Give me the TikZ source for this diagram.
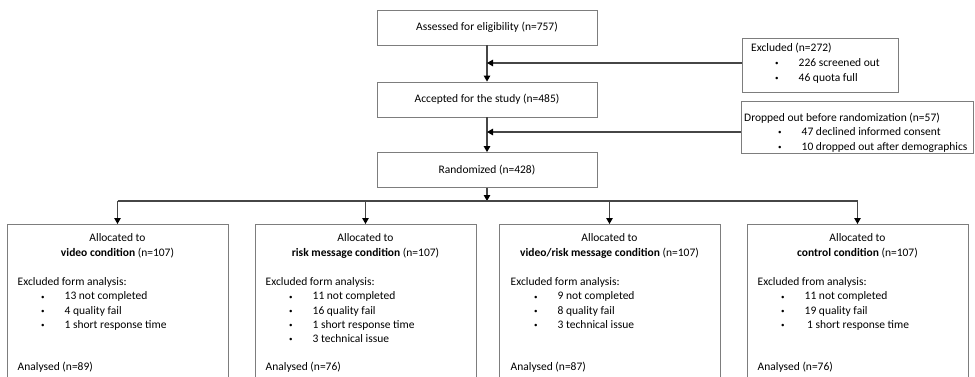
\documentclass[tikz,border=0pt]{standalone}
\usepackage{fontspec}
\setmainfont{Carlito}
\usepackage{tikz}
\usetikzlibrary{arrows.meta,positioning,calc}
\definecolor{boxline}{RGB}{125,125,125}
\definecolor{flowline}{RGB}{70,70,70}
\newcommand{\bul}{\makebox[23.5pt][l]{\raisebox{0.8pt}{\fontsize{7}{7}\selectfont\textbullet}}}

\begin{document}
\begin{tikzpicture}[x=1pt,y=-1pt,
    font=\fontsize{11.5}{13}\selectfont,
    box/.style={draw=boxline, line width=0.8pt, minimum width=220pt, minimum height=35pt, inner sep=0pt},
    group/.style={box, minimum width=221pt, minimum height=170pt, anchor=north},
    txt/.style={anchor=base west, inner sep=0pt},
    ctr/.style={anchor=base, inner sep=0pt},
    flow/.style={draw=flowline, line width=1.1pt},
    arr/.style={flow, -{Triangle[length=6pt,width=6.5pt,color=black]}}]

    \useasboundingbox (0,0) rectangle (975,376);
    \clip (0,0) rectangle (975,376);

    % main column
    \node [box] (assess) at (487,27.5) {Assessed for eligibility (n=757)};
    \node [box] (accept) at (487,99.5) {Accepted for the study (n=485)};
    \node [box] (rand) at (487,170) {Randomized (n=428)};

    % side boxes
    \node [box, minimum width=156pt, minimum height=54pt] (excl) at (820,65) {};
    \node [txt] (excl-t) at (751,51) {Excluded (n=272)};
    \node [txt] (excl-1) at (775,66.5) {\bul 226 screened out};
    \node [txt] (excl-2) at (775,81) {\bul 46 quota full};

    \node [box, minimum width=232pt, minimum height=52pt] (drop) at (857,127) {};
    \node [txt] (drop-t) at (744,121.5) {Dropped out before randomization (n=57)};
    \node [txt] (drop-1) at (778,135.5) {\bul 47 declined informed consent};
    \node [txt] (drop-2) at (778,150) {\bul 10 dropped out after demographics};

    \coordinate (j1) at (487,63);
    \coordinate (j2) at (487,132);
    \coordinate (split) at (487,201);

    \draw [arr] (assess) -- (accept);
    \draw [arr] (accept) -- (rand);
    \draw [arr] (excl.west |- j1) -- (j1);
    \draw [arr] (drop.west |- j2) -- (j2);

    % allocation groups
    \node [group] (vid) at (117.5,224) {};
    \node [ctr] (vid-a) at (117.5,241.5) {Allocated to};
    \node [ctr] (vid-b) at (117.5,256.5) {\textbf{video condition} (n=107)};
    \node [txt] (vid-x) at (17.5,285.5) {Excluded form analysis:};
    \foreach \t [count=\i] in {13 not completed, 4 quality fail, 1 short response time}
        \node [txt] (vid-\i) at (41,{285.5+14.3*\i}) {\bul \t};
    \node [txt] (vid-n) at (17.5,370.5) {Analysed (n=89)};

    \node [group] (risk) at (365.5,224) {};
    \node [ctr] (risk-a) at (365.5,241.5) {Allocated to};
    \node [ctr] (risk-b) at (365.5,256.5) {\textbf{risk message condition} (n=107)};
    \node [txt] (risk-x) at (265.5,285.5) {Excluded form analysis:};
    \foreach \t [count=\i] in {11 not completed, 16 quality fail, 1 short response time, 3 technical issue}
        \node [txt] (risk-\i) at (289,{285.5+14.3*\i}) {\bul \t};
    \node [txt] (risk-n) at (265.5,370.5) {Analysed (n=76)};

    \node [group] (mix) at (609.5,224) {};
    \node [ctr] (mix-a) at (609.5,241.5) {Allocated to};
    \node [ctr] (mix-b) at (609.5,256.5) {\textbf{video/risk message condition} (n=107)};
    \node [txt] (mix-x) at (510.5,285.5) {Excluded form analysis:};
    \foreach \t [count=\i] in {9 not completed, 8 quality fail, 3 technical issue}
        \node [txt] (mix-\i) at (534,{285.5+14.3*\i}) {\bul \t};
    \node [txt] (mix-n) at (510.5,370.5) {Analysed (n=87)};

    \node [group] (ctl) at (857.5,224) {};
    \node [ctr] (ctl-a) at (857.5,241.5) {Allocated to};
    \node [ctr] (ctl-b) at (857.5,256.5) {\textbf{control condition} (n=107)};
    \node [txt] (ctl-x) at (757.5,285.5) {Excluded from analysis:};
    \foreach \t [count=\i] in {11 not completed, 19 quality fail, \hspace{2.5pt}1 short response time}
        \node [txt] (ctl-\i) at (781,{285.5+14.3*\i}) {\bul \t};
    \node [txt] (ctl-n) at (757.5,370.5) {Analysed (n=76)};

    % branching
    \draw [arr] (rand) -- (split);
    \draw [flow] (vid.north |- split) -- (ctl.north |- split);
    \foreach \g in {vid,risk,mix,ctl}
        \draw [arr] (\g.north |- split) -- (\g.north);
\end{tikzpicture}
\end{document}
